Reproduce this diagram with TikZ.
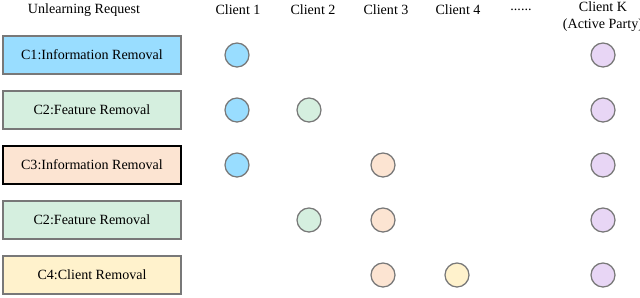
\documentclass[tikz,border=0pt]{standalone}
\usepackage{fontspec}
\setmainfont{Liberation Serif}
\definecolor{reqblue}{RGB}{153,221,255}
\definecolor{reqgreen}{RGB}{213,239,223}
\definecolor{reqpeach}{RGB}{252,228,210}
\definecolor{reqyellow}{RGB}{255,242,204}
\definecolor{reqlilac}{RGB}{232,214,245}
\definecolor{edgegray}{RGB}{120,120,120}
\begin{document}
\begin{tikzpicture}[x=0.025cm, y=-0.025cm,
    req/.style={rectangle, draw=edgegray, line width=0.9pt, minimum width=4.45cm, minimum height=0.95cm, inner sep=0pt},
    cl/.style={circle, draw=edgegray, line width=0.9pt, minimum size=0.6cm, inner sep=0pt}]
    \useasboundingbox (0,0) rectangle (640,297);

    % column heads
    \node (H0) at (84,10)  {Unlearning Request};
    \node (H1) at (238,10) {Client 1};
    \node (H2) at (313,10) {Client 2};
    \node (H3) at (386,10) {Client 3};
    \node (H4) at (458,10) {Client 4};
    \node (H5) at (521,10) {......};
    \node[align=center] (HK) at (603,17) {Client K\\(Active Party)};

    % requests
    \node[req, fill=reqblue]   (R1) at (92,55)  {C1:Information Removal};
    \node[req, fill=reqgreen]  (R2) at (92,110) {C2:Feature Removal};
    \node[req, fill=reqpeach, draw=black, line width=1.1pt] (R3) at (92,165) {C3:Information Removal};
    \node[req, fill=reqgreen]  (R4) at (92,220) {C2:Feature Removal};
    \node[req, fill=reqyellow] (R5) at (92,275) {C4:Client Removal};

    % clients involved
    \node[cl, fill=reqblue]   (A1) at (237,55)  {};
    \node[cl, fill=reqlilac]  (AK) at (603,55)  {};
    \node[cl, fill=reqblue]   (B1) at (237,110) {};
    \node[cl, fill=reqgreen]  (B2) at (309,110) {};
    \node[cl, fill=reqlilac]  (BK) at (603,110) {};
    \node[cl, fill=reqblue]   (C1) at (237,165) {};
    \node[cl, fill=reqpeach]  (C3) at (383,165) {};
    \node[cl, fill=reqlilac]  (CK) at (603,165) {};
    \node[cl, fill=reqgreen]  (D2) at (309,220) {};
    \node[cl, fill=reqpeach]  (D3) at (383,220) {};
    \node[cl, fill=reqlilac]  (DK) at (603,220) {};
    \node[cl, fill=reqpeach]  (E3) at (383,275) {};
    \node[cl, fill=reqyellow] (E4) at (457,275) {};
    \node[cl, fill=reqlilac]  (EK) at (603,275) {};
\end{tikzpicture}
\end{document}
